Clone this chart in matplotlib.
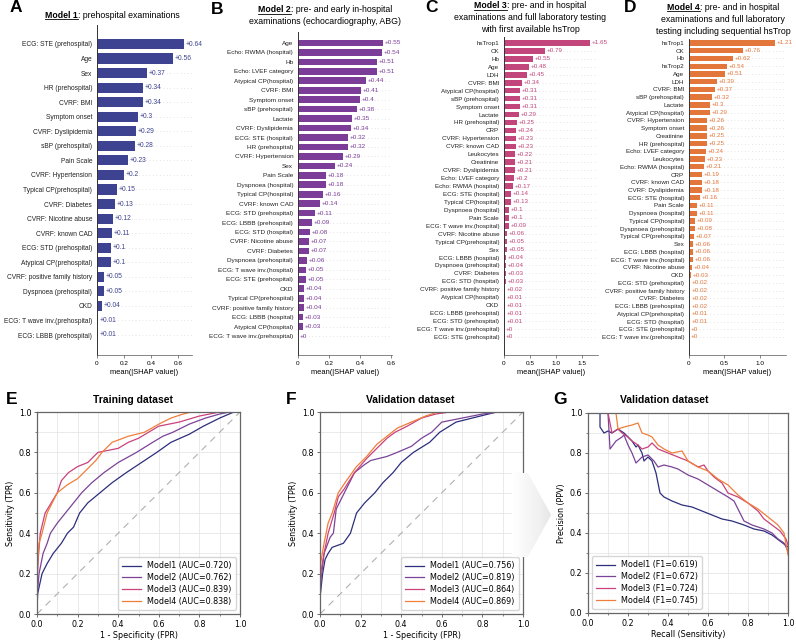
import matplotlib
matplotlib.use("Agg")
import matplotlib.pyplot as plt
import numpy as np
from matplotlib.lines import Line2D
from matplotlib.patches import Polygon
from matplotlib.ticker import MultipleLocator

# ---- SHAP importance (mean |SHAP|), top feature first ----
m1_features = ["ECG: STE (prehospital)", "Age", "Sex", "HR (prehospital)", "CVRF: BMI",
               "Symptom onset", "CVRF: Dyslipidemia", "sBP (prehospital)", "Pain Scale",
               "CVRF: Hypertension", "Typical CP(prehospital)", "CVRF: Diabetes",
               "CVRF: Nicotine abuse", "CVRF: known CAD", "ECG: STD (prehospital)",
               "Atypical CP(prehospital)", "CVRF: positive family history",
               "Dyspnoea (prehospital)", "CKD", "ECG: T wave inv.(prehospital)",
               "ECG: LBBB (prehospital)"]
m1_values = [0.64, 0.56, 0.37, 0.34, 0.34, 0.3, 0.29, 0.28, 0.23, 0.2, 0.15, 0.13,
             0.12, 0.11, 0.1, 0.1, 0.05, 0.05, 0.04, 0.01, 0.01]

m2_features = ["Age", "Echo: RWMA (hospital)", "Hb", "Echo: LVEF category",
               "Atypical CP(hospital)", "CVRF: BMI", "Symptom onset", "sBP (prehospital)",
               "Lactate", "CVRF: Dyslipidemia", "ECG: STE (hospital)", "HR (prehospital)",
               "CVRF: Hypertension", "Sex", "Pain Scale", "Dyspnoea (hospital)",
               "Typical CP(hospital)", "CVRF: known CAD", "ECG: STD (prehospital)",
               "ECG: LBBB (prehospital)", "ECG: STD (hospital)", "CVRF: Nicotine abuse",
               "CVRF: Diabetes", "Dyspnoea (prehospital)", "ECG: T wave inv.(hospital)",
               "ECG: STE (prehospital)", "CKD", "Typical CP(prehospital)",
               "CVRF: positive family history", "ECG: LBBB (hospital)",
               "Atypical CP(hospital)", "ECG: T wave inv.(prehospital)"]
m2_values = [0.55, 0.54, 0.51, 0.51, 0.44, 0.41, 0.4, 0.38, 0.35, 0.34, 0.32, 0.32,
             0.29, 0.24, 0.18, 0.18, 0.16, 0.14, 0.11, 0.09, 0.08, 0.07, 0.07, 0.06,
             0.05, 0.05, 0.04, 0.04, 0.04, 0.03, 0.03, 0.0]

m3_features = ["hsTrop1", "CK", "Hb", "Age", "LDH", "CVRF: BMI", "Atypical CP(hospital)",
               "sBP (prehospital)", "Symptom onset", "Lactate", "HR (prehospital)", "CRP",
               "CVRF: Hypertension", "CVRF: known CAD", "Leukocytes", "Creatinine",
               "CVRF: Dyslipidemia", "Echo: LVEF category", "Echo: RWMA (hospital)",
               "ECG: STE (hospital)", "Typical CP(hospital)", "Dyspnoea (hospital)",
               "Pain Scale", "ECG: T wave inv.(hospital)", "CVRF: Nicotine abuse",
               "Typical CP(prehospital)", "Sex", "ECG: LBBB (hospital)",
               "Dyspnoea (prehospital)", "CVRF: Diabetes", "ECG: STD (hospital)",
               "CVRF: positive family history", "Atypical CP(hospital)", "CKD",
               "ECG: LBBB (prehospital)", "ECG: STD (prehospital)",
               "ECG: T wave inv.(prehospital)", "ECG: STE (prehospital)"]
m3_values = [1.65, 0.79, 0.55, 0.48, 0.45, 0.34, 0.31, 0.31, 0.31, 0.29, 0.25, 0.24,
             0.23, 0.23, 0.22, 0.21, 0.21, 0.2, 0.17, 0.14, 0.13, 0.1, 0.1, 0.09,
             0.06, 0.05, 0.05, 0.04, 0.04, 0.03, 0.03, 0.02, 0.01, 0.01, 0.01, 0.01,
             0.0, 0.0]

m4_features = ["hsTrop1", "CK", "Hb", "hsTrop2", "Age", "LDH", "CVRF: BMI",
               "sBP (prehospital)", "Lactate", "Atypical CP(hospital)", "CVRF: Hypertension",
               "Symptom onset", "Creatinine", "HR (prehospital)", "Echo: LVEF category",
               "Leukocytes", "Echo: RWMA (hospital)", "CRP", "CVRF: known CAD",
               "CVRF: Dyslipidemia", "ECG: STE (hospital)", "Pain Scale",
               "Dyspnoea (hospital)", "Typical CP(hospital)", "Dyspnoea (prehospital)",
               "Typical CP(prehospital)", "Sex", "ECG: LBBB (hospital)",
               "ECG: T wave inv.(hospital)", "CVRF: Nicotine abuse", "CKD",
               "ECG: STD (prehospital)", "CVRF: positive family history", "CVRF: Diabetes",
               "ECG: LBBB (prehospital)", "Atypical CP(prehospital)", "ECG: STD (hospital)",
               "ECG: STE (prehospital)", "ECG: T wave inv.(prehospital)"]
m4_values = [1.21, 0.76, 0.62, 0.54, 0.51, 0.39, 0.37, 0.32, 0.3, 0.29, 0.26, 0.26,
             0.25, 0.25, 0.24, 0.23, 0.21, 0.19, 0.18, 0.18, 0.16, 0.11, 0.11, 0.09,
             0.08, 0.07, 0.06, 0.06, 0.06, 0.04, 0.03, 0.02, 0.02, 0.02, 0.02, 0.01,
             0.01, 0.0, 0.0]

# ---- ROC, training dataset ----
tr_fpr1 = [0, 0.003, 0.025, 0.05, 0.08, 0.12, 0.15, 0.18, 0.21, 0.25, 0.31, 0.37, 0.44, 0.5, 0.59, 0.66, 0.75, 0.82, 0.9, 0.97, 1]
tr_tpr1 = [0, 0.1, 0.2, 0.25, 0.3, 0.35, 0.4, 0.43, 0.5, 0.55, 0.6, 0.65, 0.7, 0.74, 0.8, 0.85, 0.89, 0.93, 0.97, 1.0, 1]
tr_fpr2 = [0, 0.003, 0.01, 0.03, 0.05, 0.066, 0.1, 0.14, 0.18, 0.22, 0.27, 0.33, 0.4, 0.49, 0.57, 0.62, 0.67, 0.75, 0.83, 0.9, 0.95, 1]
tr_tpr2 = [0, 0.12, 0.2, 0.3, 0.35, 0.4, 0.45, 0.5, 0.55, 0.6, 0.65, 0.7, 0.75, 0.8, 0.85, 0.88, 0.9, 0.94, 0.97, 0.99, 1.0, 1]
tr_fpr3 = [0, 0.002, 0.008, 0.016, 0.04, 0.07, 0.1, 0.12, 0.155, 0.2, 0.25, 0.3, 0.35, 0.4, 0.45, 0.5, 0.55, 0.6, 0.7, 0.8, 0.9, 1]
tr_tpr3 = [0, 0.2, 0.3, 0.4, 0.5, 0.55, 0.6, 0.66, 0.7, 0.73, 0.75, 0.8, 0.81, 0.82, 0.85, 0.87, 0.9, 0.93, 0.95, 0.98, 1.0, 1]
tr_fpr4 = [0, 0.003, 0.01, 0.025, 0.05, 0.1, 0.15, 0.2, 0.25, 0.29, 0.32, 0.37, 0.45, 0.53, 0.6, 0.66, 0.72, 0.76, 1]
tr_tpr4 = [0, 0.25, 0.35, 0.4, 0.5, 0.6, 0.64, 0.67, 0.72, 0.76, 0.8, 0.85, 0.88, 0.9, 0.94, 0.97, 0.99, 1.0, 1]
tr_auc = [0.720, 0.762, 0.839, 0.838]

# ---- ROC, validation dataset ----
va_fpr1 = [0, 0.002, 0.013, 0.025, 0.04, 0.06, 0.115, 0.15, 0.18, 0.22, 0.27, 0.31, 0.36, 0.4, 0.46, 0.54, 0.59, 0.67, 0.75, 0.87, 1]
va_tpr1 = [0, 0.1, 0.2, 0.27, 0.3, 0.33, 0.35, 0.4, 0.5, 0.55, 0.6, 0.65, 0.7, 0.75, 0.8, 0.85, 0.9, 0.95, 0.97, 1.0, 1]
va_fpr2 = [0, 0.003, 0.02, 0.05, 0.066, 0.08, 0.12, 0.17, 0.22, 0.25, 0.33, 0.38, 0.45, 0.5, 0.55, 0.6, 0.7, 0.8, 0.88, 1]
va_tpr2 = [0, 0.15, 0.3, 0.38, 0.4, 0.52, 0.6, 0.7, 0.74, 0.76, 0.78, 0.8, 0.83, 0.87, 0.9, 0.95, 0.97, 0.99, 1.0, 1]
va_fpr3 = [0, 0.003, 0.02, 0.04, 0.07, 0.09, 0.12, 0.17, 0.23, 0.28, 0.33, 0.37, 0.43, 0.5, 0.57, 0.64, 1]
va_tpr3 = [0, 0.2, 0.3, 0.4, 0.5, 0.58, 0.62, 0.7, 0.77, 0.82, 0.87, 0.9, 0.93, 0.97, 0.99, 1.0, 1]
va_fpr4 = [0, 0.003, 0.02, 0.04, 0.06, 0.09, 0.13, 0.18, 0.23, 0.28, 0.33, 0.38, 0.45, 0.52, 0.58, 1]
va_tpr4 = [0, 0.25, 0.35, 0.45, 0.5, 0.6, 0.66, 0.73, 0.78, 0.84, 0.88, 0.92, 0.95, 0.98, 1.0, 1]
va_auc = [0.756, 0.819, 0.864, 0.869]

# ---- precision-recall, validation dataset ----
pr_rec1 = [0.06, 0.06, 0.08, 0.1, 0.12, 0.15, 0.18, 0.2, 0.22, 0.24, 0.25, 0.27, 0.28, 0.3, 0.32, 0.34, 0.35, 0.36, 0.38, 0.42, 0.47, 0.52, 0.57, 0.62, 0.67, 0.72, 0.78, 0.83, 0.88, 0.92, 0.96, 1.0]
pr_pre1 = [1.0, 0.93, 0.9, 0.91, 0.9, 0.92, 0.9, 0.88, 0.86, 0.83, 0.84, 0.8, 0.76, 0.78, 0.76, 0.7, 0.65, 0.6, 0.58, 0.56, 0.54, 0.53, 0.51, 0.49, 0.47, 0.46, 0.44, 0.42, 0.41, 0.39, 0.36, 0.33]
pr_rec2 = [0.1, 0.11, 0.14, 0.17, 0.18, 0.2, 0.22, 0.24, 0.25, 0.27, 0.3, 0.33, 0.35, 0.38, 0.42, 0.45, 0.5, 0.55, 0.6, 0.65, 0.7, 0.73, 0.76, 0.78, 0.82, 0.88, 0.92, 0.95, 0.98, 1.0]
pr_pre2 = [1.0, 0.82, 0.86, 0.88, 0.89, 0.84, 0.8, 0.75, 0.76, 0.78, 0.79, 0.76, 0.73, 0.74, 0.73, 0.72, 0.69, 0.67, 0.64, 0.61, 0.58, 0.56, 0.5, 0.46, 0.44, 0.42, 0.4, 0.37, 0.35, 0.31]
pr_rec3 = [0.1, 0.12, 0.15, 0.17, 0.2, 0.22, 0.25, 0.27, 0.3, 0.32, 0.35, 0.4, 0.45, 0.5, 0.55, 0.58, 0.6, 0.63, 0.67, 0.7, 0.75, 0.8, 0.85, 0.88, 0.92, 0.96, 0.99, 1.0]
pr_pre3 = [1.0, 0.9, 0.92, 0.9, 0.88, 0.86, 0.84, 0.82, 0.83, 0.85, 0.82, 0.8, 0.78, 0.76, 0.73, 0.74, 0.71, 0.68, 0.65, 0.6, 0.58, 0.55, 0.51, 0.47, 0.44, 0.41, 0.37, 0.34]
pr_rec4 = [0.14, 0.15, 0.18, 0.22, 0.25, 0.27, 0.3, 0.32, 0.35, 0.38, 0.42, 0.47, 0.5, 0.55, 0.6, 0.65, 0.7, 0.75, 0.8, 0.85, 0.9, 0.95, 0.98, 1.0]
pr_pre4 = [1.0, 0.92, 0.93, 0.94, 0.95, 0.9, 0.89, 0.88, 0.84, 0.82, 0.8, 0.81, 0.76, 0.73, 0.71, 0.67, 0.64, 0.59, 0.55, 0.52, 0.48, 0.44, 0.4, 0.29]
pr_f1 = [0.619, 0.672, 0.724, 0.745]

bar_colors = ["#3d4391", "#7b3d98", "#c2467b", "#e3773b"]
line_colors = ["#2d2e7c", "#7b4398", "#c9427a", "#f07e3b"]

W, H = 796, 641
SANS = "Liberation Sans"
fig = plt.figure(figsize=(W / 100, H / 100), dpi=100)


def px_axes(left, top, right, bottom):
    return fig.add_axes([left / W, 1 - bottom / H, (right - left) / W, (bottom - top) / H])


def shap_panel(box, first, last, feats, vals, color, xmax, ticks, ticklabels, size):
    left, top, right, bottom = box
    ax = px_axes(left, top, right, bottom)
    n = len(feats)
    step = (last - first) / (n - 1)
    y = np.arange(n)[::-1]
    for yy in y:
        ax.axhline(yy, color="#cccccc", lw=0.5, dashes=(1, 4), zorder=-1)
    ax.barh(y, vals, height=0.7, color=color)
    for yy, v in zip(y, vals):
        ax.annotate("{:+g}".format(v), (v, yy), xytext=(1.2, 0), textcoords="offset points",
                    va="center", ha="left", color=color, fontsize=size, family=SANS)
    ax.set_yticks(y)
    ax.set_yticklabels(feats, fontsize=size, family=SANS, color="#222222")
    ax.set_ylim(-(bottom - last) / step, n - 1 + (first - top) / step)
    ax.set_xlim(0, xmax)
    ax.set_xticks(ticks)
    ax.set_xticklabels(ticklabels, fontsize=4.6, family=SANS)
    ax.set_xlabel("mean(|SHAP value|)", fontsize=5.4, family=SANS, labelpad=2)
    ax.tick_params(axis="y", length=0, pad=3.5)
    ax.tick_params(axis="x", length=2.5, width=0.5, pad=2, color="#555555")
    for s in ["top", "right"]:
        ax.spines[s].set_visible(False)
    ax.spines["left"].set_color("#333333")
    ax.spines["left"].set_linewidth(0.7)
    ax.spines["bottom"].set_color("#555555")
    ax.spines["bottom"].set_linewidth(0.5)
    return ax


shap_panel((97, 25, 192, 355), 44, 335, m1_features, m1_values, bar_colors[0], 0.70,
           [0, 0.2, 0.4, 0.6], ["0", "0.2", "0.4", "0.6"], 4.8)
shap_panel((298, 32, 392, 355), 43, 336, m2_features, m2_values, bar_colors[1], 0.607,
           [0, 0.2, 0.4, 0.6], ["0", "0.2", "0.4", "0.6"], 4.6)
shap_panel((504, 37, 598, 355), 43, 337, m3_features, m3_values, bar_colors[2], 1.81,
           [0, 0.5, 1.0, 1.5], ["0", "0.5", "1.0", "1.5"], 4.5)
shap_panel((689, 39, 786, 355), 43, 337, m4_features, m4_values, bar_colors[3], 1.37,
           [0, 0.5, 1.0], ["0", "0.5", "1.0"], 4.5)

renderer = fig.canvas.get_renderer()


def title_lines(xc, ys, bold, lines, size=6.3):
    # first line: bold underlined model name + regular rest, centred
    t1 = fig.text(0, 0, bold, fontsize=size, weight="bold", family=SANS, va="center")
    t2 = fig.text(0, 0, lines[0], fontsize=size, family=SANS, va="center")
    w1 = t1.get_window_extent(renderer).width
    w2 = t2.get_window_extent(renderer).width
    x0 = xc - (w1 + w2) / 2
    t1.set_position((x0 / W, 1 - ys[0] / H))
    t2.set_position(((x0 + w1) / W, 1 - ys[0] / H))
    uy = 1 - (ys[0] + 4.2) / H
    fig.add_artist(Line2D([x0 / W, (x0 + w1) / W], [uy, uy], lw=0.6, color="black"))
    for txt, yy in zip(lines[1:], ys[1:]):
        fig.text(xc / W, 1 - yy / H, txt, fontsize=size, family=SANS, ha="center", va="center")


def letter(x, y, s):
    fig.text(x / W, 1 - y / H, s, fontsize=12.5, weight="bold", family=SANS,
             ha="center", va="center")


letter(16, 8, "A")
letter(217, 9, "B")
letter(432, 8, "C")
letter(630, 8, "D")
title_lines(112, [15], "Model 1", [": prehospital examinations"])
title_lines(325, [10, 22], "Model 2", [": pre- and early in-hospital",
                                      "examinations (echocardiography, ABG)"])
title_lines(530, [6, 18, 30], "Model 3", [": pre- and in hospital",
                                         "examinations and full laboratory testing",
                                         "with first available hsTrop"])
title_lines(723, [7, 19, 31], "Model 4", [": pre- and in hospital",
                                         "examinations and full laboratory",
                                         "testing including sequential hsTrop"])


def curve_axes(box):
    ax = px_axes(*box)
    ax.set_xlim(0, 1)
    ax.set_ylim(0, 1)
    for axis in (ax.xaxis, ax.yaxis):
        axis.set_major_locator(MultipleLocator(0.2))
        axis.set_minor_locator(MultipleLocator(0.1))
    ax.grid(which="both", color="#e6e6e6", lw=0.6)
    ax.set_axisbelow(True)
    ax.tick_params(which="major", labelsize=5.8, length=2.5, width=0.6, pad=1.5, color="#555555")
    ax.tick_params(which="minor", length=1.5, width=0.5, color="#555555")
    for s in ax.spines.values():
        s.set_color("#666666")
        s.set_linewidth(0.9)
    return ax


def roc_panel(box, fprs, tprs, aucs):
    ax = curve_axes(box)
    ax.plot([0, 1], [0, 1], color="#b0b0b0", lw=0.8, dashes=(6, 5))
    for i, (f, t, a) in enumerate(zip(fprs, tprs, aucs)):
        ax.plot(f, t, color=line_colors[i], lw=0.9,
                label="Model{} (AUC={:.3f})".format(i + 1, a))
    ax.set_xlabel("1 - Specificity (FPR)", fontsize=5.8, labelpad=2)
    ax.set_ylabel("Sensitivity (TPR)", fontsize=5.8, labelpad=3)
    ax.legend(loc="lower right", fontsize=5.8, handlelength=2.3, labelspacing=0.35,
              borderpad=0.5, edgecolor="#cccccc", fancybox=True)
    return ax


roc_panel((37, 412, 240, 614), [tr_fpr1, tr_fpr2, tr_fpr3, tr_fpr4],
          [tr_tpr1, tr_tpr2, tr_tpr3, tr_tpr4], tr_auc)
roc_panel((320, 412, 523, 614), [va_fpr1, va_fpr2, va_fpr3, va_fpr4],
          [va_tpr1, va_tpr2, va_tpr3, va_tpr4], va_auc)

axg = curve_axes((588, 413, 788, 613))
for i, (r, p, f1) in enumerate(zip([pr_rec1, pr_rec2, pr_rec3, pr_rec4],
                                   [pr_pre1, pr_pre2, pr_pre3, pr_pre4], pr_f1)):
    axg.plot(r, p, color=line_colors[i], lw=0.9, label="Model{} (F1={:.3f})".format(i + 1, f1))
axg.set_xlabel("Recall (Sensitivity)", fontsize=5.8, labelpad=2)
axg.set_ylabel("Precision (PPV)", fontsize=5.8, labelpad=3)
axg.legend(loc="lower left", fontsize=5.8, handlelength=2.3, labelspacing=0.35,
           borderpad=0.5, edgecolor="#cccccc", fancybox=True)

letter(12, 400, "E")
letter(291, 400, "F")
letter(560, 400, "G")
for xc, s in [(133, "Training dataset"), (410, "Validation dataset"), (664, "Validation dataset")]:
    fig.text(xc / W, 1 - 400 / H, s, fontsize=7.5, weight="bold", family=SANS,
             ha="center", va="center")

# light grey gradient arrow between F and G
axa = px_axes(512, 470, 556, 560)
axa.set_xlim(0, 1)
axa.set_ylim(0, 1)
axa.axis("off")
grad = np.linspace(0, 1, 64)[None, :]
img = axa.imshow(grad, extent=(0, 1, 0, 1), aspect="auto", cmap="Greys", vmin=0, vmax=5.0)
arrow = Polygon([(0.0, 0.967), (0.36, 0.967), (0.89, 0.5), (0.36, 0.033), (0.0, 0.033)],
                closed=True, transform=axa.transData, facecolor="none", edgecolor="none")
axa.add_patch(arrow)
img.set_clip_path(arrow)

fig.savefig("out.png", dpi=100)
